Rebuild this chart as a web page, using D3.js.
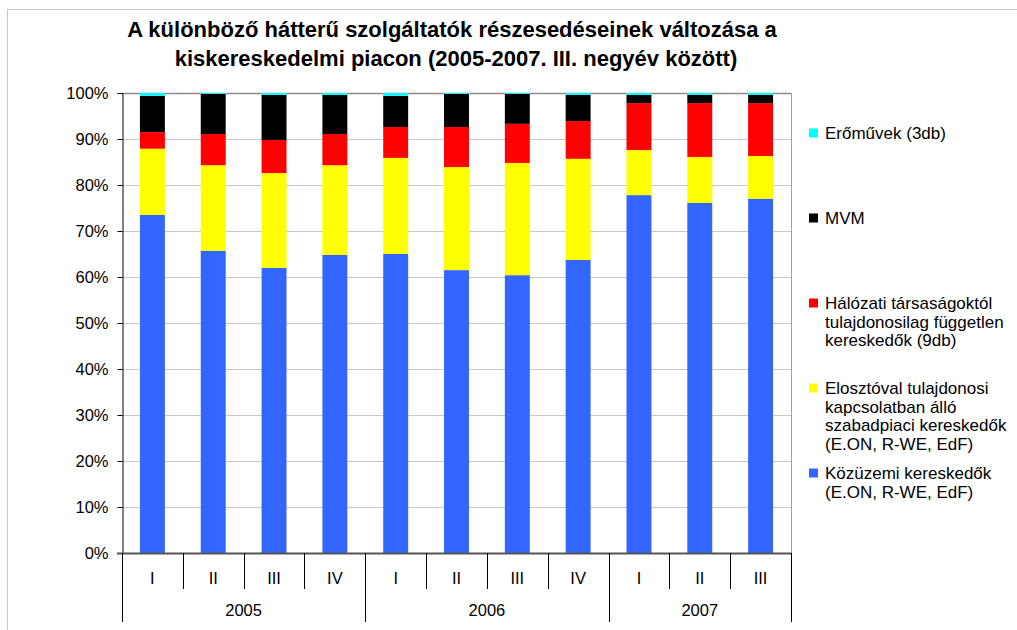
<!DOCTYPE html>
<html>
<head>
<meta charset="utf-8">
<script src="https://cdn.jsdelivr.net/npm/d3@7"></script>
<style>
  body { margin: 0; background: #fff; }
  text { font-family: "Liberation Sans", Arial, sans-serif; }
</style>
</head>
<body>
<svg id="chart" width="1017" height="630"></svg>
<script>
// categories
var quarters = ["I", "II", "III", "IV", "I", "II", "III", "IV", "I", "II", "III"];
var yearOf = ["2005", "2005", "2005", "2005", "2006", "2006", "2006", "2006", "2007", "2007", "2007"];

// series values (%), bottom to top
var kozuzemi = [73.5, 65.7, 62.0, 64.8, 65.0, 61.5, 60.4, 63.7, 77.8, 76.1, 77.0];
var elosztoval = [14.4, 18.6, 20.6, 19.5, 20.9, 22.4, 24.4, 22.0, 9.8, 10.0, 9.3];
var halozati = [3.6, 6.8, 7.2, 6.8, 6.7, 8.7, 8.5, 8.2, 10.2, 11.7, 11.5];
var mvm = [7.9, 8.7, 9.8, 8.5, 6.8, 7.2, 6.5, 5.7, 1.8, 1.8, 1.8];
var eromuvek = [0.6, 0.2, 0.4, 0.4, 0.6, 0.2, 0.2, 0.4, 0.4, 0.4, 0.4];

var seriesKeys = ["kozuzemi", "elosztoval", "halozati", "mvm", "eromuvek"];
var seriesColors = ["#3366ff", "#ffff00", "#ff0000", "#000000", "#00ffff"];
var yTicks = [0, 10, 20, 30, 40, 50, 60, 70, 80, 90, 100];

// legend (top to bottom)
var legendLines = [
  ["Erőművek (3db)"],
  ["MVM"],
  ["Hálózati társaságoktól", "tulajdonosilag független", "kereskedők (9db)"],
  ["Elosztóval tulajdonosi", "kapcsolatban álló", "szabadpiaci kereskedők", "(E.ON, R-WE, EdF)"],
  ["Közüzemi kereskedők", "(E.ON, R-WE, EdF)"]
];
var legendColors = ["#00ffff", "#000000", "#ff0000", "#ffff00", "#3366ff"];
var legendY = [133, 218, 303, 388, 473];

var svg = d3.select("#chart");
var plotLeft = 122, plotRight = 791, plotTop = 93, plotBottom = 553;

// outer frame
svg.append("rect")
  .attr("x", 7.5).attr("y", 9.5)
  .attr("width", 1030).attr("height", 640)
  .attr("fill", "none").attr("stroke", "#c8c8c8");

// title
svg.append("text")
  .attr("x", 452).attr("y", 37)
  .attr("text-anchor", "middle")
  .style("font-size", "22px").style("font-weight", "bold")
  .text("A különböző hátterű szolgáltatók részesedéseinek változása a");
svg.append("text")
  .attr("x", 456).attr("y", 66)
  .attr("text-anchor", "middle")
  .style("font-size", "22px").style("font-weight", "bold")
  .text("kiskereskedelmi piacon (2005-2007. III. negyév között)");

var rows = quarters.map(function(q, i) {
  return { i: i, kozuzemi: kozuzemi[i], elosztoval: elosztoval[i], halozati: halozati[i], mvm: mvm[i], eromuvek: eromuvek[i] };
});

var x = d3.scaleBand()
  .domain(d3.range(quarters.length))
  .range([plotLeft, plotRight])
  .paddingInner(0.59)
  .paddingOuter(0.295);

var y = d3.scaleLinear().domain([0, 100]).range([plotBottom, plotTop]);

// gridlines
svg.append("g")
  .selectAll("line")
  .data(yTicks.filter(function(t) { return t > 0; }))
  .enter().append("line")
  .attr("x1", plotLeft).attr("x2", plotRight)
  .attr("y1", function(d) { return Math.round(y(d)) + 0.5; })
  .attr("y2", function(d) { return Math.round(y(d)) + 0.5; })
  .attr("stroke", function(d) { return d === 100 ? "#8c8c8c" : "#c8c8c8"; })
  .attr("stroke-width", function(d) { return d === 100 ? 1.5 : 1; });

// right border of plot area
svg.append("line")
  .attr("x1", plotRight + 0.5).attr("x2", plotRight + 0.5)
  .attr("y1", plotTop).attr("y2", plotBottom)
  .attr("stroke", "#a0a0a0");

// bars
var stack = d3.stack().keys(seriesKeys);
var stacked = stack(rows);

svg.append("g")
  .selectAll("g")
  .data(stacked)
  .enter().append("g")
  .attr("fill", function(d, i) { return seriesColors[i]; })
  .selectAll("rect")
  .data(function(d) { return d; })
  .enter().append("rect")
  .attr("x", function(d) { return x(d.data.i); })
  .attr("width", x.bandwidth())
  .attr("y", function(d) { return y(d[1]); })
  .attr("height", function(d) { return y(d[0]) - y(d[1]); });

// y axis
var yAxis = svg.append("g")
  .attr("transform", "translate(" + (plotLeft + 0.5) + ",0)")
  .call(d3.axisLeft(y).tickValues(yTicks).tickSize(5).tickPadding(9)
    .tickFormat(function(d) { return d + "%"; }));
yAxis.select(".domain").attr("stroke", "#000");
yAxis.selectAll(".tick line").attr("stroke", "#000");
yAxis.selectAll("text")
  .style("font-size", "16.5px")
  .style("font-family", "'Liberation Sans', Arial, sans-serif")
  .attr("fill", "#000");

// x axis baseline
svg.append("line")
  .attr("x1", plotLeft - 5).attr("x2", plotRight + 1)
  .attr("y1", plotBottom + 0.5).attr("y2", plotBottom + 0.5)
  .attr("stroke", "#555").attr("stroke-width", 2);

// category separators
var step = x.step();
var seps = d3.range(quarters.length + 1);
svg.append("g")
  .selectAll("line")
  .data(seps)
  .enter().append("line")
  .attr("x1", function(d) { return Math.round(plotLeft + d * step) + 0.5; })
  .attr("x2", function(d) { return Math.round(plotLeft + d * step) + 0.5; })
  .attr("y1", plotBottom)
  .attr("y2", function(d) {
    var isYear = d === 0 || d === quarters.length || yearOf[d] !== yearOf[d - 1];
    return isYear ? 622 : 589;
  })
  .attr("stroke", "#000");

// quarter labels
svg.append("g")
  .selectAll("text")
  .data(quarters)
  .enter().append("text")
  .attr("x", function(d, i) { return x(i) + x.bandwidth() / 2; })
  .attr("y", 584)
  .attr("text-anchor", "middle")
  .style("font-size", "16.5px")
  .text(function(d) { return d; });

// year labels
var years = Array.from(new Set(yearOf));
svg.append("g")
  .selectAll("text")
  .data(years)
  .enter().append("text")
  .attr("x", function(yr) {
    var idx = yearOf.map(function(v, i) { return v === yr ? i : -1; }).filter(function(i) { return i >= 0; });
    return plotLeft + (idx[0] + idx[idx.length - 1] + 1) / 2 * step;
  })
  .attr("y", 616)
  .attr("text-anchor", "middle")
  .style("font-size", "16.5px")
  .text(function(d) { return d; });

// legend
var lg = svg.append("g");
legendLines.forEach(function(lines, k) {
  lg.append("rect")
    .attr("x", 809).attr("y", legendY[k] - 4.5)
    .attr("width", 9).attr("height", 9)
    .attr("fill", legendColors[k]);
  lines.forEach(function(t, j) {
    lg.append("text")
      .attr("x", 825).attr("y", legendY[k] + j * 18.5 + 6)
      .style("font-size", "17px")
      .text(t);
  });
});
</script>
</body>
</html>
